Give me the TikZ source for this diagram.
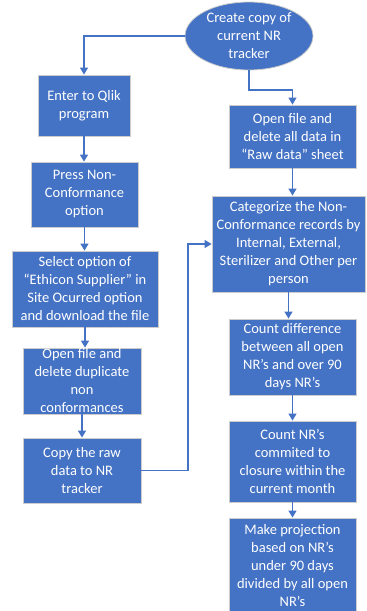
\documentclass[tikz,border=0pt]{standalone}
\usepackage{fontspec}
\setmainfont{Carlito}
\usetikzlibrary{arrows.meta,shapes.geometric}
\definecolor{nrblue}{HTML}{4472C4}
\tikzset{
	stepbox/.style={rectangle, fill=nrblue, draw=gray!40, line width=0.8pt, text=white,
		align=center, inner sep=0pt, font=\fontsize{14.5}{18}\selectfont},
	startoval/.style={ellipse, fill=nrblue, draw=gray!40, line width=0.8pt, text=white,
		align=center, inner sep=0pt, font=\fontsize{14.5}{18}\selectfont},
	flow/.style={draw=nrblue, line width=1.2pt, -{Triangle[width=8pt,length=7pt]}}
}
\begin{document}
\begin{tikzpicture}[
	x=1pt, y=-1pt
	]
	\useasboundingbox (0,0) rectangle (367,611);
	\clip (0,0) rectangle (367,611);
	
	% start
	\node[startoval, minimum width=128pt, minimum height=68pt] (copy) at (249,36) {Create copy of\\current NR\\tracker};
	
	% left column
	\node[stepbox, minimum width=92pt, minimum height=61pt] (qlik) at (84,105.5) {Enter to Qlik\\program};
	\node[stepbox, minimum width=107pt, minimum height=65pt] (press) at (84.5,194.5) {Press Non-\\Conformance\\option};
	\node[stepbox, minimum width=146pt, minimum height=76pt] (select) at (85,289) {Select option of\\``Ethicon Supplier'' in\\Site Ocurred option\\and download the file};
	\node[stepbox, minimum width=118pt, minimum height=66pt] (dup) at (82,381) {Open file and\\delete duplicate\\non\\conformances};
	\node[stepbox, minimum width=118pt, minimum height=65pt] (copyraw) at (82,470.5) {Copy the raw\\data to NR\\tracker};
	
	% right column
	\node[stepbox, minimum width=127pt, minimum height=63pt] (raw) at (292.5,136.5) {Open file and\\delete all data in\\``Raw data'' sheet};
	\node[stepbox, minimum width=153pt, minimum height=96pt] (categ) at (288.5,244) {Categorize the Non-\\Conformance records by\\Internal, External,\\Sterilizer and Other per\\person};
	\node[stepbox, minimum width=127pt, minimum height=76pt] (diff) at (292.5,357) {Count difference\\between all open\\NR’s and over 90\\days NR’s};
	\node[stepbox, minimum width=127pt, minimum height=81pt] (closure) at (292.5,461.5) {Count NR’s\\commited to\\closure within the\\current month};
	\node[stepbox, minimum width=127pt, minimum height=96pt] (proj) at (292.5,566) {Make projection\\based on NR’s\\under 90 days\\divided by all open\\NR’s};
	
	\coordinate (elbow) at (249,90);
	\coordinate (jog) at (188,470.5);
	
	\draw[flow] (copy.west) -| (qlik.north);
	\draw[flow] (copy.south) -- (elbow) -| (raw.north);
	\draw[flow] (qlik.south) -- (qlik.south |- press.north);
	\draw[flow] (press.south) -- (press.south |- select.north);
	\draw[flow] (select.south) -- (select.south |- dup.north);
	\draw[flow] (dup.south) -- (dup.south |- copyraw.north);
	\draw[flow] (copyraw.east) -- (jog) |- (categ.west);
	\draw[flow] (raw.south) -- (raw.south |- categ.north);
	\draw[flow] (categ.south) -- (categ.south |- diff.north);
	\draw[flow] (diff.south) -- (diff.south |- closure.north);
	\draw[flow] (closure.south) -- (closure.south |- proj.north);
\end{tikzpicture}
\end{document}
